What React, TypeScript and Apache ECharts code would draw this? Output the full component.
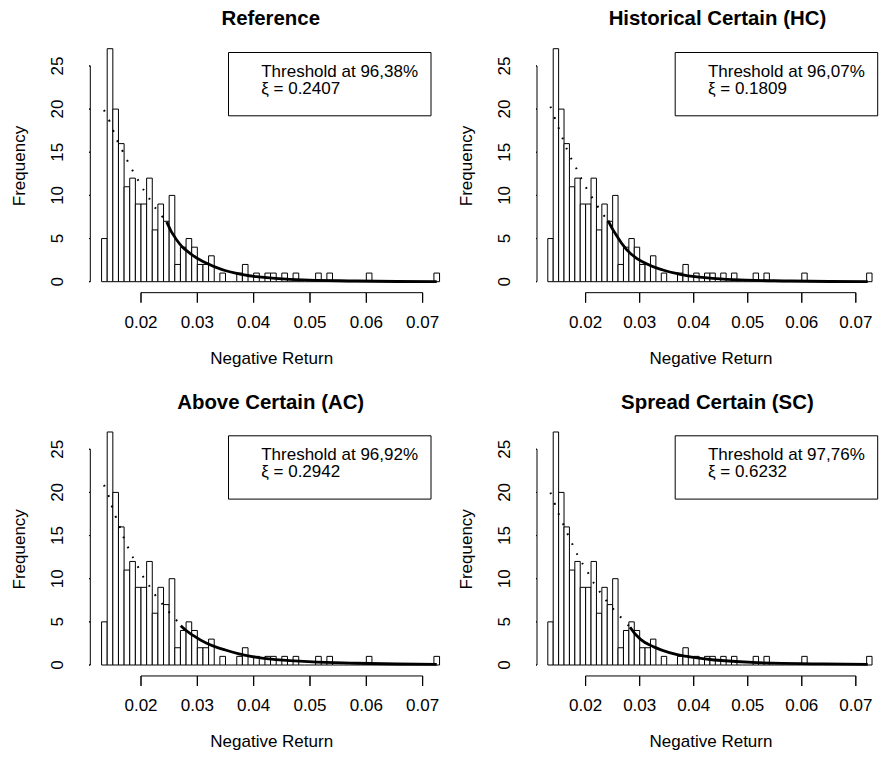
import React, { useEffect, useRef } from "react";
import * as echarts from "echarts";

// ---- data ----
const BIN_START = 0.013;
const BIN_WIDTH = 0.001;
const binCounts = [
  5, 27, 20, 16, 11, 12, 9, 9, 12, 6,
  9, 7, 10, 2, 4, 5, 4, 2, 2, 3,
  0, 1, 0, 0, 1, 2, 0, 1, 0, 1,
  1, 0, 1, 0, 1, 0, 0, 0, 1, 0,
  1, 0, 0, 0, 0, 0, 0, 1, 0, 0,
  0, 0, 0, 0, 0, 0, 0, 0, 0, 1,
];
const xTickValues = [0.02, 0.03, 0.04, 0.05, 0.06, 0.07];
const yTickValues = [0, 5, 10, 15, 20, 25];
const panelTitles = ["Reference", "Historical Certain (HC)", "Above Certain (AC)", "Spread Certain (SC)"];
const thresholdLabels = ["96,38%", "96,07%", "96,92%", "97,76%"];
const xiLabels = ["0.2407", "0.1809", "0.2942", "0.6232"];

const bodyRef = [
  [0.01343, 19.9], [0.01432, 18.74], [0.01503, 17.58], [0.01574, 16.42], [0.01663, 15.26],
  [0.01746, 14.18], [0.01835, 13.06], [0.01929, 11.98], [0.02023, 10.89], [0.0213, 9.81],
  [0.02231, 8.77], [0.0235, 7.76], [0.02456, 6.92],
];
const tailRef = [
  [0.02456, 6.92], [0.02634, 4.83], [0.0287, 3.29], [0.03166, 2.13], [0.03461, 1.36],
  [0.03758, 0.89], [0.04054, 0.58], [0.04645, 0.28], [0.05829, 0.08], [0.0725, 0.0],
];
const bodyHC = [
  [0.01348, 20.28], [0.0142, 19.12], [0.01491, 17.96], [0.01562, 16.8], [0.01633, 15.64],
  [0.01716, 14.48], [0.01805, 13.41], [0.01893, 12.28], [0.01982, 11.2], [0.02082, 10.13],
  [0.02188, 9.08], [0.02295, 8.04], [0.02414, 7.07],
];
const tailHC = [
  [0.02414, 7.07], [0.02604, 5.03], [0.0284, 3.21], [0.03136, 2.05], [0.03431, 1.36],
  [0.03727, 0.89], [0.04024, 0.58], [0.04615, 0.28], [0.058, 0.08], [0.0722, 0.0],
];
const bodyAC = [
  [0.01343, 20.86], [0.0142, 19.7], [0.0148, 18.46], [0.01544, 17.3], [0.01615, 16.14],
  [0.0168, 14.98], [0.01757, 13.82], [0.01835, 12.75], [0.01924, 11.67], [0.02012, 10.51],
  [0.02119, 9.47], [0.02218, 8.42], [0.02337, 7.42], [0.02456, 6.45], [0.02591, 5.48],
  [0.02705, 4.55],
];
const tailAC = [
  [0.02705, 4.55], [0.0287, 3.67], [0.03166, 2.51], [0.03461, 1.82], [0.03757, 1.27],
  [0.04054, 0.89], [0.04645, 0.5], [0.0583, 0.2], [0.0725, 0.08],
];
const bodySC = [
  [0.01348, 19.97], [0.0142, 18.81], [0.01491, 17.65], [0.01574, 16.49], [0.01656, 15.33],
  [0.01739, 14.21], [0.01822, 13.09], [0.01922, 11.97], [0.02023, 10.93], [0.02117, 9.85],
  [0.02224, 8.84], [0.02337, 7.84], [0.02455, 6.92], [0.02591, 5.94], [0.02721, 5.06],
  [0.02822, 4.37],
];
const tailSC = [
  [0.02822, 4.37], [0.03017, 2.97], [0.03254, 2.12], [0.0355, 1.43], [0.03905, 0.96],
  [0.04379, 0.58], [0.05206, 0.27], [0.0639, 0.12], [0.0722, 0.08],
];
const bodyCurves = [bodyRef, bodyHC, bodyAC, bodySC];
const tailCurves = [tailRef, tailHC, tailAC, tailSC];

// ---- layout ----
const X_MIN = 0.011;
const X_MAX = 0.0754;
const Y_MIN = -1.27;
const Y_MAX = 28.08;
const PX_PER_X = 5633;
const PX_PER_Y = 8.63;
const COL_X02 = [141, 587.7];
const ROW_Y0 = [281.7, 665];
const TICK_LEN = 10;
const FONT = "'Liberation Sans', Arial, Helvetica, sans-serif";

// R-style axis polylines (axis line + outward ticks), built from the tick arrays
function xAxisPath() {
  const drop = TICK_LEN / PX_PER_Y;
  const pts: number[][] = [];
  xTickValues.forEach((v) => {
    pts.push([v, Y_MIN]);
    pts.push([v, Y_MIN - drop]);
    pts.push([v, Y_MIN]);
  });
  return pts;
}
function yAxisPath() {
  const drop = TICK_LEN / PX_PER_X;
  const pts: number[][] = [];
  yTickValues.forEach((v) => {
    pts.push([X_MIN, v]);
    pts.push([X_MIN - drop, v]);
    pts.push([X_MIN, v]);
  });
  return pts;
}

function buildOption() {
  const histData = binCounts.map((c, i) => [
    BIN_START + i * BIN_WIDTH,
    BIN_START + (i + 1) * BIN_WIDTH,
    c,
  ]);
  const grids: any[] = [];
  const xAxes: any[] = [];
  const yAxes: any[] = [];
  const series: any[] = [];
  const titles: any[] = [];
  const graphics: any[] = [];

  for (let p = 0; p < 4; p++) {
    const c = p % 2;
    const r = Math.floor(p / 2);
    const x02 = COL_X02[c];
    const y0 = ROW_Y0[r];
    const left = x02 - (0.02 - X_MIN) * PX_PER_X;
    const width = (X_MAX - X_MIN) * PX_PER_X;
    const top = y0 - Y_MAX * PX_PER_Y;
    const height = (Y_MAX - Y_MIN) * PX_PER_Y;
    grids.push({ left, top, width, height, containLabel: false });
    xAxes.push({
      type: "value",
      gridIndex: p,
      min: X_MIN,
      max: X_MAX,
      axisLine: { show: false },
      splitLine: { show: false },
      axisTick: { show: false },
      axisLabel: {
        customValues: xTickValues,
        formatter: (v: number) => v.toFixed(2),
        margin: 21,
        color: "#000",
        fontSize: 17,
        fontFamily: FONT,
      },
      name: "Negative Return",
      nameLocation: "middle",
      nameGap: 57,
      nameTextStyle: { color: "#000", fontSize: 17, fontFamily: FONT },
    });
    yAxes.push({
      type: "value",
      gridIndex: p,
      min: Y_MIN,
      max: Y_MAX,
      axisLine: { show: false },
      splitLine: { show: false },
      axisTick: { show: false },
      axisLabel: {
        customValues: yTickValues,
        rotate: 90,
        margin: 24,
        color: "#000",
        fontSize: 17,
        fontFamily: FONT,
      },
      name: "Frequency",
      nameLocation: "middle",
      nameRotate: 90,
      nameGap: 62,
      nameTextStyle: { color: "#000", fontSize: 17, fontFamily: FONT },
    });

    // histogram bars
    series.push({
      type: "custom",
      xAxisIndex: p,
      yAxisIndex: p,
      data: histData,
      silent: true,
      clip: false,
      renderItem: (params: any, api: any) => {
        const x0 = api.value(0);
        const x1 = api.value(1);
        const h = api.value(2);
        const p0 = api.coord([x0, 0]);
        const p1 = api.coord([x1, h]);
        if (h === 0) {
          return {
            type: "rect",
            shape: { x: p0[0], y: p0[1] - 0.5, width: p1[0] - p0[0], height: 1 },
            style: { fill: "#000" },
          };
        }
        return {
          type: "rect",
          shape: { x: p0[0], y: p1[1], width: p1[0] - p0[0], height: p0[1] - p1[1] },
          style: { fill: "#fff", stroke: "#000", lineWidth: 1 },
        };
      },
    });
    // dotted body curve
    series.push({
      type: "line",
      xAxisIndex: p,
      yAxisIndex: p,
      data: bodyCurves[p],
      smooth: true,
      symbol: "none",
      silent: true,
      lineStyle: { color: "#000", width: 2, type: [1.8, 9.2] },
    });
    // solid tail curve
    series.push({
      type: "line",
      xAxisIndex: p,
      yAxisIndex: p,
      data: tailCurves[p],
      smooth: true,
      symbol: "none",
      silent: true,
      lineStyle: { color: "#000", width: 2.8 },
    });
    // x axis line + ticks
    series.push({
      type: "line",
      xAxisIndex: p,
      yAxisIndex: p,
      data: xAxisPath(),
      symbol: "none",
      clip: false,
      silent: true,
      lineStyle: { color: "#000", width: 1 },
    });
    // y axis line + ticks
    series.push({
      type: "line",
      xAxisIndex: p,
      yAxisIndex: p,
      data: yAxisPath(),
      symbol: "none",
      clip: false,
      silent: true,
      lineStyle: { color: "#000", width: 1 },
    });

    titles.push({
      text: panelTitles[p],
      left: x02 + 129.7,
      top: y0 - 273.5,
      textAlign: "center",
      padding: 0,
      textStyle: { color: "#000", fontSize: 20.4, fontWeight: "bold", fontFamily: FONT },
    });

    const boxRight = x02 + 290;
    const boxW = 202.5;
    const boxTop = y0 - 229.2;
    const boxH = 63.3;
    graphics.push({
      type: "group",
      children: [
        {
          type: "rect",
          shape: { x: boxRight - boxW, y: boxTop, width: boxW, height: boxH },
          style: { fill: "#fff", stroke: "#000", lineWidth: 1 },
        },
        {
          type: "text",
          x: boxRight - boxW + 32.7,
          y: boxTop + 18.6,
          style: {
            text: "Threshold at " + thresholdLabels[p],
            fill: "#000",
            font: "17px " + FONT,
            verticalAlign: "middle",
          },
        },
        {
          type: "text",
          x: boxRight - boxW + 32.7,
          y: boxTop + 36,
          style: {
            text: "ξ = " + xiLabels[p],
            fill: "#000",
            font: "17px " + FONT,
            verticalAlign: "middle",
          },
        },
      ],
    });
  }

  return {
    animation: false,
    backgroundColor: "#fff",
    title: titles,
    grid: grids,
    xAxis: xAxes,
    yAxis: yAxes,
    series,
    graphic: graphics,
  };
}

export default function App() {
  const ref = useRef<HTMLDivElement>(null);
  useEffect(() => {
    if (!ref.current) return;
    const chart = echarts.init(ref.current, null, { renderer: "svg" });
    chart.setOption(buildOption() as any);
    return () => chart.dispose();
  }, []);
  return (
    <div
      ref={ref}
      style={{ position: "absolute", left: 0, top: 0, width: 885, height: 761, background: "#fff" }}
    />
  );
}
